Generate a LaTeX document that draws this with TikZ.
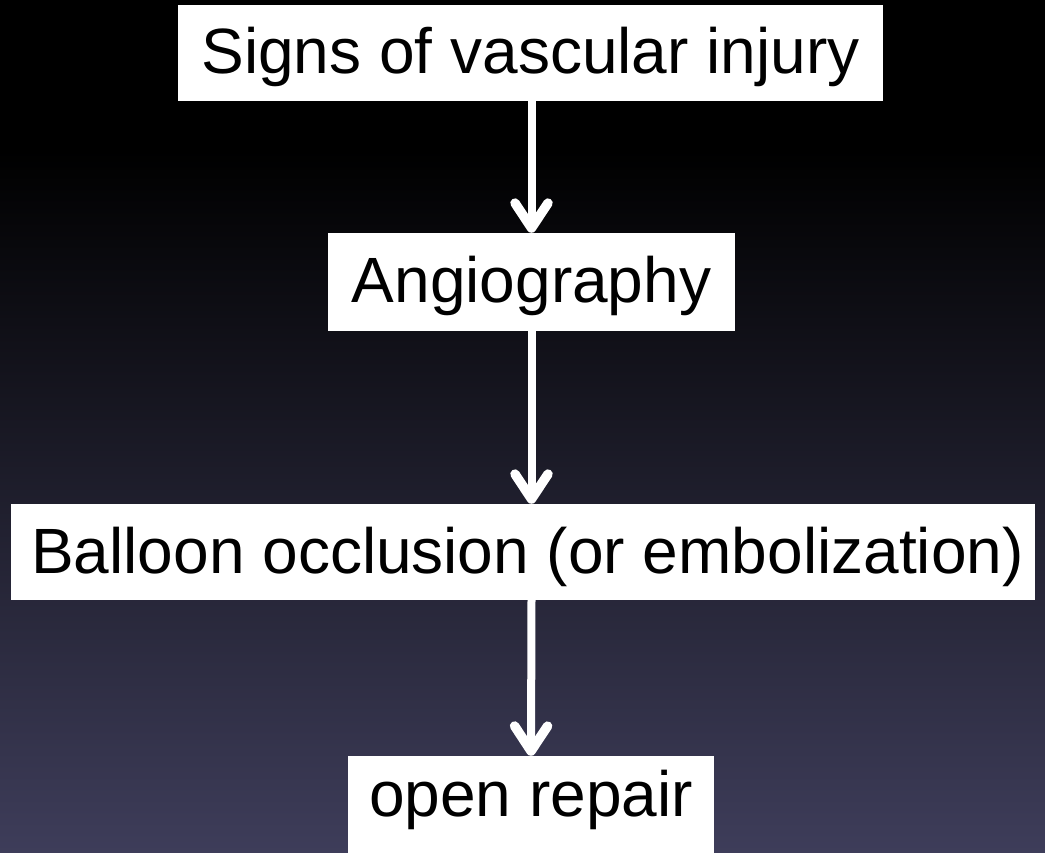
\documentclass[tikz,border=0pt]{standalone}
\usepackage{fontspec}
\setmainfont{Liberation Sans}
\usetikzlibrary{arrows.meta}
\definecolor{bgbottom}{HTML}{3E3D5A}
\tikzset{
  box/.style={fill=white, draw=none, inner sep=0pt, text=black,
    font=\fontsize{64}{70}\selectfont, text height=46pt, text depth=4pt},
  arr/.style={draw=white, line width=8pt,
    -{Straight Barb[length=25pt, width=33pt, line width=9.5pt, round]}}
}
\begin{document}
\begin{tikzpicture}[x=1pt,y=-1pt]
\useasboundingbox (0,0) rectangle (1045,853);
\fill[black] (0,0) rectangle (1045,151);
\shade[top color=black, bottom color=bgbottom] (0,150) rectangle (1045,853);
\node[box, minimum width=705pt, minimum height=96pt] (b1) at (530.5,53) {Signs of vascular injury};
\node[box, minimum width=407pt, minimum height=98pt] (b2) at (531.5,282) {Angiography};
\node[box, minimum width=1024pt, minimum height=96pt] (b3) at (523,552) {\hspace*{9pt}Balloon occlusion (or embolization)};
\node[box, minimum width=366pt, minimum height=97pt, text height=30pt, text depth=7pt] (b4) at (531,804.5) {open repair};
\draw[arr] (b2.north |- b1.south) -- (b2.north);
\draw[arr] (b2.south) -- (b2.south |- b3.north);
\draw[arr] (b2.south |- b3.south) -- (b4.north);
\end{tikzpicture}
\end{document}
